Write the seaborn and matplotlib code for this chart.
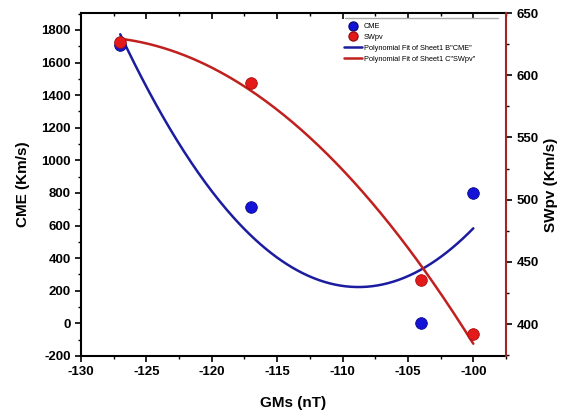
import numpy as np
import pandas as pd
import seaborn as sns
import matplotlib
matplotlib.use("Agg")
import matplotlib.pyplot as plt
from matplotlib.ticker import MultipleLocator
from matplotlib.lines import Line2D

sns.set_style("ticks")
plt.rcParams['font.family'] = ['Liberation Sans', 'DejaVu Sans']
plt.rcParams['font.weight'] = 'bold'
plt.rcParams['axes.unicode_minus'] = False
for k in ['text.color', 'axes.labelcolor', 'xtick.color', 'ytick.color', 'axes.edgecolor']:
    plt.rcParams[k] = 'black'

gms = [-127, -117, -104, -100]
cme = [1710, 717, 0, 798]
swpv = [627, 594, 435, 392]

df = pd.DataFrame({"GMs": gms, "CME": cme, "SWpv": swpv})

fig = plt.figure(figsize=(5.63, 4.17), dpi=100)
ax = fig.add_axes([81/563, 1-356/417, (506-81)/563, (356-13)/417])
ax2 = ax.twinx()

blue_pt = "#1414d8"
red_pt = "#e41a1a"
blue_ln = "#1c1ca0"
red_ln = "#c0201e"

xs = np.linspace(min(gms), max(gms), 200)
pc = np.polyfit(gms, cme, 2)
ps = np.polyfit(gms, swpv, 2)
fit_c = pd.DataFrame({"x": xs, "y": np.polyval(pc, xs)})
fit_s = pd.DataFrame({"x": xs, "y": np.polyval(ps, xs)})

sns.lineplot(data=fit_c, x="x", y="y", ax=ax, color=blue_ln, lw=1.8, zorder=2)
sns.scatterplot(data=df, x="GMs", y="CME", ax=ax, color=blue_pt, s=70,
                edgecolor="#0a0a80", linewidth=0.6, zorder=3)
sns.lineplot(data=fit_s, x="x", y="y", ax=ax2, color=red_ln, lw=1.8, zorder=2)
sns.scatterplot(data=df, x="GMs", y="SWpv", ax=ax2, color=red_pt, s=70,
                edgecolor="#a01010", linewidth=0.6, zorder=3)

ax.set_xlim(-130, -97.5)
ax.set_ylim(-200, 1904)
ax2.set_ylim(374.3, 650)

ax.set_xticks(np.arange(-130, -99, 5))
ax.xaxis.set_minor_locator(MultipleLocator(2.5))
ax.set_yticks(np.arange(-200, 1801, 200))
ax.yaxis.set_minor_locator(MultipleLocator(100))
ax2.set_yticks(np.arange(400, 651, 50))
ax2.yaxis.set_minor_locator(MultipleLocator(25))

ax.tick_params(axis='both', which='major', length=4, width=1.2, labelsize=9.5, direction='out')
ax.tick_params(axis='both', which='minor', length=2.5, width=1.0, direction='out')
ax.tick_params(axis='x', top=True, which='both')
ax2.tick_params(axis='y', which='major', length=4, width=1.2, labelsize=9.5, direction='out')
ax2.tick_params(axis='y', which='minor', length=2.5, width=1.0, direction='out')

# top ticks point inward
for t in ax.xaxis.get_major_ticks() + ax.xaxis.get_minor_ticks():
    t.tick2line.set_marker(3)

for lab in ax.get_xticklabels() + ax.get_yticklabels() + ax2.get_yticklabels():
    lab.set_fontweight('bold')

for s in ['left', 'bottom', 'top']:
    ax.spines[s].set_linewidth(1.5)
    ax.spines[s].set_color('black')
ax.spines['right'].set_visible(False)
for s in ['left', 'bottom', 'top']:
    ax2.spines[s].set_visible(False)
ax2.spines['right'].set_color('#a0262a')
ax2.spines['right'].set_linewidth(1.5)

ax.set_xlabel("GMs (nT)", fontsize=11, fontweight='bold', labelpad=13)
ax.set_ylabel("CME (Km/s)", fontsize=11, fontweight='bold', labelpad=8)
ax2.set_ylabel("SWpv (Km/s)", fontsize=11, fontweight='bold', labelpad=4)

handles = [
    Line2D([], [], marker='o', ls='none', color=blue_pt, markeredgecolor="#0a0a80", ms=6.5),
    Line2D([], [], marker='o', ls='none', color=red_pt, markeredgecolor="#a01010", ms=6.5),
    Line2D([], [], color=blue_ln, lw=1.8),
    Line2D([], [], color=red_ln, lw=1.8),
]
labels = ["CME", "SWpv", "Polynomial Fit of Sheet1 B\"CME\"", "Polynomial Fit of Sheet1 C\"SWpv\""]
leg = ax.legend(handles, labels, loc='upper left', bbox_to_anchor=(0.615, 0.975),
                fontsize=5.3, frameon=False, handlelength=2.4, handletextpad=0.3,
                labelspacing=0.5, borderaxespad=0.0, borderpad=0.2)
for t in leg.get_texts():
    t.set_fontweight('normal')
ax.plot([0.62, 0.98], [0.985, 0.985], transform=ax.transAxes, color='#aaaaaa', lw=1)

fig.savefig("out.png", dpi=100)
